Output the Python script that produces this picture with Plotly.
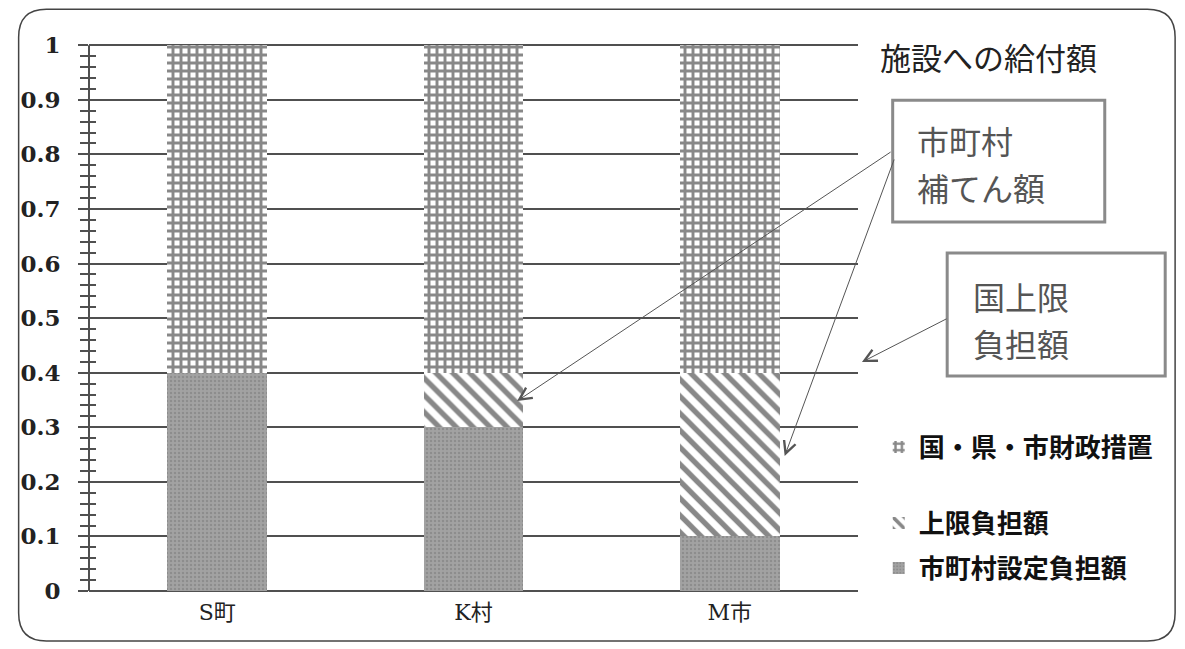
import plotly.graph_objects as go

categories = ["S町", "K村", "M市"]
municipal_burden = [0.4, 0.3, 0.1]      # 市町村設定負担額
upper_limit = [0.0, 0.1, 0.3]           # 上限負担額
fiscal_measures = [0.6, 0.6, 0.6]       # 国・県・市財政措置
series_names = ["市町村設定負担額", "上限負担額", "国・県・市財政措置"]
y_ticks = [0, 0.1, 0.2, 0.3, 0.4, 0.5, 0.6, 0.7, 0.8, 0.9, 1]
y_tick_labels = ["0", "0.1", "0.2", "0.3", "0.4", "0.5", "0.6", "0.7", "0.8", "0.9", "1"]

OFF = 8  # page body margin offset
W, H = 1185 - OFF, 649 - OFF
YMAX = 1.004
L, R, B = 82, 858, 591            # screen pixels
T = B - (B - 45) * YMAX           # so that y=1 lands at 45


def px(x):
    return (x - L) / (R - L)


def py(y):
    return (B - y) / (B - T)


fig = go.Figure()
fig.add_trace(go.Bar(
    x=categories, y=municipal_burden, name=series_names[0], legend="legend3",
    marker=dict(color="#9c9c9c", line=dict(width=0),
                pattern=dict(shape=".", fgcolor="#777777", bgcolor="#a2a2a2", size=4, solidity=0.3)),
))
fig.add_trace(go.Bar(
    x=categories, y=upper_limit, name=series_names[1], legend="legend2",
    marker=dict(color="white", line=dict(width=0),
                pattern=dict(shape="\\", fgcolor="#111111", bgcolor="white", size=12, solidity=0.45)),
))
fig.add_trace(go.Bar(
    x=categories, y=fiscal_measures, name=series_names[2], legend="legend",
    marker=dict(color="white", line=dict(width=0),
                pattern=dict(shape="+", fgcolor="#111111", bgcolor="white", size=8, solidity=0.6)),
))
# invisible helper to show inward-facing ticks on an overlaid axis
fig.add_trace(go.Scatter(x=[], y=[], yaxis="y2", showlegend=False, hoverinfo="skip"))

# frame with rounded corners
x0, x1, y0, y1, r = 11, 1178, 9, 641, 28
def pt(x, y):
    return f"{px(x):.5f},{py(y):.5f}"
path = (f"M {pt(x0 + r, y0)} L {pt(x1 - r, y0)} Q {pt(x1, y0)} {pt(x1, y0 + r)} "
        f"L {pt(x1, y1 - r)} Q {pt(x1, y1)} {pt(x1 - r, y1)} "
        f"L {pt(x0 + r, y1)} Q {pt(x0, y1)} {pt(x0, y1 - r)} "
        f"L {pt(x0, y0 + r)} Q {pt(x0, y0)} {pt(x0 + r, y0)} Z")
shapes = [dict(type="path", xref="paper", yref="paper", path=path,
               line=dict(color="#444444", width=1.5), layer="below")]
# text boxes
for (bx0, by0, bx1, by1) in [(893, 100, 1107, 222), (948, 253, 1168, 376)]:
    shapes.append(dict(type="rect", xref="paper", yref="paper",
                       x0=px(bx0), x1=px(bx1), y0=py(by1), y1=py(by0),
                       line=dict(color="#8a8a8a", width=3), fillcolor="white"))

box_font = dict(family="Noto Sans CJK JP", size=32, color="#555555")
annotations = [
    dict(text="施設への給付額", xref="paper", yref="paper", x=px(878), y=py(56),
         xanchor="left", yanchor="middle", showarrow=False,
         font=dict(family="Noto Sans CJK JP", size=31, color="#222222")),
    dict(text="市町村", xref="paper", yref="paper", x=px(916), y=py(140),
         xanchor="left", yanchor="middle", showarrow=False, font=box_font),
    dict(text="補てん額", xref="paper", yref="paper", x=px(916), y=py(187),
         xanchor="left", yanchor="middle", showarrow=False, font=box_font),
    dict(text="国上限", xref="paper", yref="paper", x=px(972), y=py(296),
         xanchor="left", yanchor="middle", showarrow=False, font=box_font),
    dict(text="負担額", xref="paper", yref="paper", x=px(972), y=py(343),
         xanchor="left", yanchor="middle", showarrow=False, font=box_font),
]
for (tx, ty, sx, sy) in [(514, 401, 889, 151), (784, 456, 894, 158), (862, 362, 948, 318)]:
    annotations.append(dict(text="", xref="paper", yref="paper", x=px(tx), y=py(ty),
                            ax=sx - tx, ay=sy - ty, axref="pixel", ayref="pixel",
                            showarrow=True, arrowhead=5, arrowsize=2.4, arrowwidth=1,
                            arrowcolor="#555555"))

legend_font = dict(family="Noto Sans CJK JP", size=26, color="#111111", weight="bold")
def leg(ypix):
    return dict(x=px(889), y=py(ypix), xanchor="left", yanchor="middle",
                font=legend_font, bgcolor="rgba(0,0,0,0)", itemwidth=30,
                indentation=-10)

fig.update_layout(
    width=W, height=H,
    margin=dict(l=L - OFF, r=W - (R - OFF), t=T - OFF, b=H - (B - OFF)),
    paper_bgcolor="white", plot_bgcolor="white",
    barmode="stack", bargap=0.61,
    showlegend=True,
    legend=leg(447), legend2=leg(523), legend3=leg(568),
    xaxis=dict(type="category", range=[-0.5, 2.5], showgrid=False, zeroline=False,
               showline=False, ticks="", ticklabelstandoff=6,
               tickfont=dict(family="DejaVu Serif, Noto Sans CJK JP", size=22, color="#222222")),
    yaxis=dict(range=[0, YMAX], tickvals=y_ticks, ticktext=y_tick_labels,
               showgrid=True, gridcolor="#505050", gridwidth=2.2,
               zeroline=True, zerolinecolor="#505050", zerolinewidth=2.2,
               showline=False,
               ticks="outside", ticklen=10, tickwidth=2, tickcolor="#505050",
               ticklabelstandoff=13,
               minor=dict(dtick=0.02, ticks="outside", ticklen=8, tickwidth=1.5,
                          tickcolor="#505050", showgrid=False),
               tickfont=dict(family="DejaVu Serif", size=23, color="#222222", weight="bold")),
    yaxis2=dict(range=[0, YMAX], overlaying="y", side="left", showgrid=False, zeroline=False,
                showticklabels=False, showline=False, tickvals=y_ticks,
                ticks="inside", ticklen=7, tickwidth=1.5, tickcolor="#505050",
                minor=dict(dtick=0.02, ticks="inside", ticklen=7, tickwidth=1.5,
                           tickcolor="#505050")),
    shapes=shapes + [dict(type="line", xref="paper", yref="y", x0=0, x1=0, y0=0, y1=1,
                          line=dict(color="#505050", width=2))],
    annotations=annotations,
)

fig.write_html("out.html")
